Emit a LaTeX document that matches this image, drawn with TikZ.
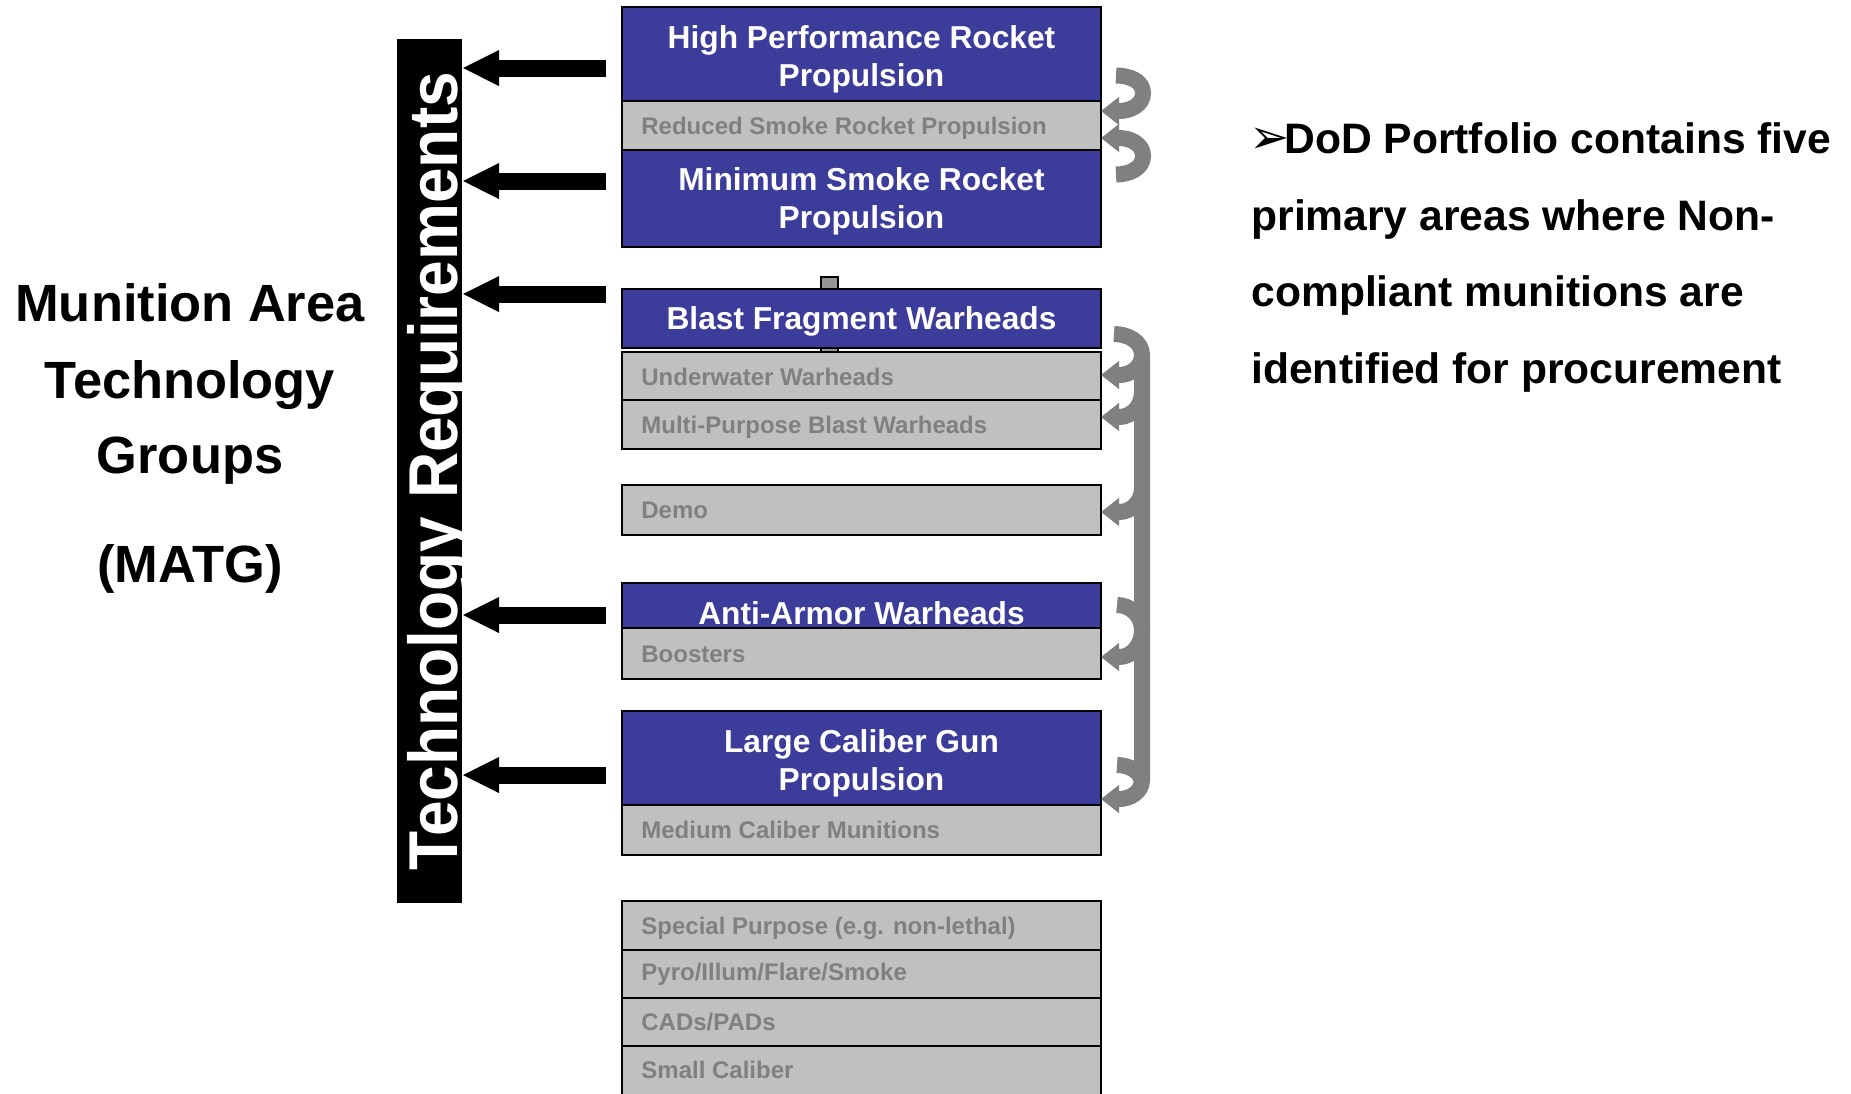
\documentclass[tikz,border=0pt]{standalone}
\usepackage{fontspec}
\setmainfont{Liberation Sans}
\newfontfamily\dejavu{DejaVu Sans}
\usetikzlibrary{arrows.meta}
\definecolor{boxblue}{RGB}{60,60,155}
\definecolor{boxgray}{RGB}{192,192,192}
\definecolor{txtgray}{RGB}{128,128,128}
\definecolor{arrgray}{RGB}{128,128,128}
\definecolor{stubgray}{RGB}{150,150,150}
\begin{document}
\begin{tikzpicture}[x=0.5pt,y=0.5pt,
  boxbase/.style={draw=black, line width=1pt, minimum width=239.5pt, inner sep=0pt, outer sep=0pt, anchor=north west},
  bluebox/.style={boxbase, fill=boxblue},
  graybox/.style={boxbase, fill=boxgray},
  bluetxt/.style={anchor=base, text=white, font=\fontsize{15.85pt}{19pt}\selectfont\bfseries, inner sep=0pt},
  graytxt/.style={anchor=base west, text=txtgray, font=\fontsize{12pt}{14pt}\selectfont\bfseries, inner sep=0pt},
  bigtxt/.style={anchor=base, font=\fontsize{26.2pt}{30pt}\selectfont\bfseries, inner sep=0pt},
  righttxt/.style={anchor=base west, font=\fontsize{21.3pt}{25pt}\selectfont\bfseries, inner sep=0pt},
  blkarrow/.style={line width=8.5pt, -{Triangle[length=18.5pt,width=16.5pt]}},
  grayarrow/.style={draw=arrgray, line width=8pt, -{Triangle[length=9pt,width=13.5pt]}},
  grayband/.style={draw=arrgray, line width=8pt}
]
\useasboundingbox (0,0) rectangle (1851,-1093);

% left title
\node[bigtxt] (m1) at (190,-321) {Munition Area};
\node[bigtxt] (m2) at (190,-398) {Technology};
\node[bigtxt] (m3) at (190,-473) {Groups};
\node[bigtxt] (m4) at (190,-582) {(MATG)};

% black bar
\node[fill=black, minimum width=32.5pt, minimum height=432pt, inner sep=0pt, outer sep=0pt, anchor=north west] (bar) at (397,-39) {};
\node[anchor=base, rotate=90, text=white, inner sep=0pt, font=\fontsize{32pt}{36pt}\selectfont\bfseries] (bartxt) at (457,-471.5) {\scalebox{1}[1.08]{Technology Requirements}};

% stub behind boxes
\node[draw=black, line width=1pt, fill=stubgray, minimum width=8.5pt, minimum height=37.5pt, inner sep=0pt, outer sep=0pt, anchor=north west] (stub) at (821,-277) {};

% boxes
\node[bluebox, minimum height=47pt] (hprp) at (622,-7) {};
\node[graybox, minimum height=24.5pt] (rsrp) at (622,-101) {};
\node[bluebox, minimum height=48.5pt] (msrp) at (622,-150) {};
\node[bluebox, minimum height=29.5pt] (bfw) at (622,-289) {};
\node[graybox, minimum height=24pt] (uw) at (622,-352) {};
\node[graybox, minimum height=24.5pt] (mpbw) at (622,-400) {};
\node[graybox, minimum height=25pt] (demo) at (622,-485) {};
\node[bluebox, minimum height=22.5pt] (aaw) at (622,-583) {};
\node[graybox, minimum height=25.5pt] (boost) at (622,-628) {};
\node[bluebox, minimum height=47pt] (lcgp) at (622,-711) {};
\node[graybox, minimum height=25pt] (mcm) at (622,-805) {};
\node[graybox, minimum height=24.5pt] (sp) at (622,-901) {};
\node[graybox, minimum height=24pt] (pyro) at (622,-950) {};
\node[graybox, minimum height=24pt] (cads) at (622,-998) {};
\node[graybox, minimum height=35pt] (small) at (622,-1046) {};

% box texts
\node[bluetxt] (t1a) at (861.5,-48) {High Performance Rocket};
\node[bluetxt] (t1b) at (861.5,-86) {Propulsion};
\node[graytxt] (t2) at (641,-134) {Reduced Smoke Rocket Propulsion};
\node[bluetxt] (t3a) at (861.5,-190) {Minimum Smoke Rocket};
\node[bluetxt] (t3b) at (861.5,-228) {Propulsion};
\node[bluetxt] (t4) at (861.5,-329) {Blast Fragment Warheads};
\node[graytxt] (t5) at (641,-385) {Underwater Warheads};
\node[graytxt] (t6) at (641,-433) {Multi-Purpose Blast Warheads};
\node[graytxt] (t7) at (641,-518) {Demo};
\node[bluetxt] (t8) at (861.5,-624) {Anti-Armor Warheads};
\node[graytxt] (t9) at (641,-662) {Boosters};
\node[bluetxt] (t10a) at (861.5,-752) {Large Caliber Gun};
\node[bluetxt] (t10b) at (861.5,-790) {Propulsion};
\node[graytxt] (t11) at (641,-838) {Medium Caliber Munitions};
\node[graytxt] (t12) at (641,-934) {Special Purpose (e.g. non-lethal)};
\node[graytxt] (t13) at (641,-980) {Pyro/Illum/Flare/Smoke};
\node[graytxt] (t14) at (641,-1030) {CADs/PADs};
\node[graytxt] (t15) at (641,-1078) {Small Caliber};

% black arrows to the bar
\coordinate (a1) at (606,-68);
\coordinate (a2) at (606,-181);
\coordinate (a3) at (606,-294);
\coordinate (a4) at (606,-615);
\coordinate (a5) at (606,-775);
\foreach \a in {a1,a2,a3,a4,a5} \draw[blkarrow] (\a) -- (\a -| bar.east);

% gray curved arrows
\coordinate (e1) at (1119,-111);
\coordinate (e2) at (1119,-138);
\coordinate (e3) at (1119,-375);
\coordinate (e4) at (1119,-417);
\coordinate (e5) at (1119,-512);
\coordinate (e6) at (1119,-657);
\coordinate (e7) at (1119,-799);
\draw[grayarrow] (1116,-75.5) to[out=0,in=90] (1143,-93) to[out=-90,in=0] (e1) -- (e1 -| rsrp.east);
\draw[grayarrow] (1116,-174.5) to[out=0,in=-90] (1143,-156) to[out=90,in=0] (e2) -- (e2 -| rsrp.east);
\draw[grayarrow] (1114,-334) to[out=0,in=90] (1142,-355) to[out=-90,in=0] (e3) -- (e3 -| uw.east);
\draw[grayarrow] (1142,-353) -- (1142,-780) to[out=-90,in=0] (e7) -- (e7 -| mcm.east);
\draw[grayarrow] (1142,-392) to[out=-90,in=0] (e4) -- (e4 -| mpbw.east);
\draw[grayarrow] (1142,-488) to[out=-90,in=0] (e5) -- (e5 -| demo.east);
\draw[grayarrow] (1117,-605) to[out=0,in=90] (1142,-630) to[out=-90,in=0] (e6) -- (e6 -| boost.east);
\draw[grayband] (1117,-765) to[out=0,in=90] (1142,-784);

% right text
\node[anchor=base west, inner sep=0pt, font=\dejavu\fontsize{24pt}{24pt}\selectfont] (bul) at (1249,-153) {➢};
\node[righttxt] (r1) at (1284,-153) {DoD Portfolio contains five};
\node[righttxt] (r2) at (1251,-230.5) {primary areas where Non-};
\node[righttxt] (r3) at (1251,-306.5) {compliant munitions are};
\node[righttxt] (r4) at (1251,-383.5) {identified for procurement};
\end{tikzpicture}
\end{document}
